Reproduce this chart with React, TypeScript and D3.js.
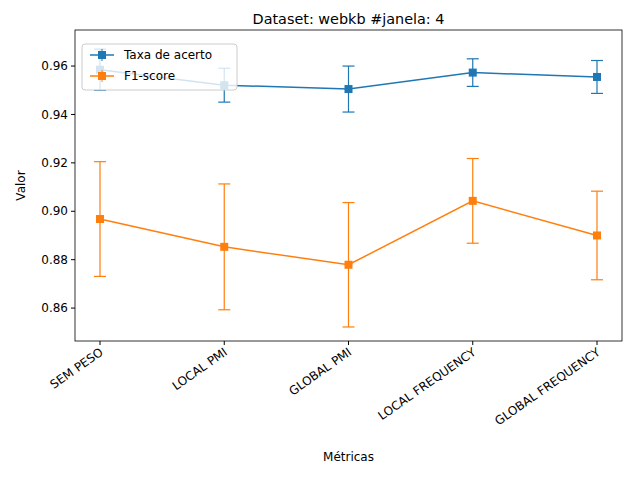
import * as d3 from "d3";

const categories = ["SEM PESO", "LOCAL PMI", "GLOBAL PMI", "LOCAL FREQUENCY", "GLOBAL FREQUENCY"];
const accMean = [0.9585, 0.9521, 0.9505, 0.9573, 0.9555];
const accErr = [0.0085, 0.007, 0.0095, 0.0057, 0.0068];
const f1Mean = [0.8968, 0.8853, 0.8779, 0.9043, 0.89];
const f1Err = [0.0237, 0.026, 0.0257, 0.0175, 0.0183];
const yTicks = [0.86, 0.88, 0.9, 0.92, 0.94, 0.96];

const W = 640, H = 480;
const m = { l: 75, r: 622, t: 30, b: 341 };

export default function App() {
  const x = d3.scalePoint<string>().domain(categories).range([100, 597]);
  const y = d3.scaleLinear().domain([0.8464, 0.9749]).range([m.b, m.t]);
  const series = [
    { name: "Taxa de acerto", mean: accMean, err: accErr, color: "#1f77b4" },
    { name: "F1-score", mean: f1Mean, err: f1Err, color: "#ff7f0e" },
  ];
  const line = d3.line<[string, number]>().x((d) => x(d[0])!).y((d) => y(d[1]));
  return (
    <svg width={W} height={H} style={{ position: "absolute", left: 0, top: 0, fontFamily: "DejaVu Sans" }}>
      <rect width={W} height={H} fill="white" />
      {series.map((s) => (
        <g key={s.name}>
          {categories.map((c, i) => {
            const cx = x(c)!;
            return (
              <g key={c} stroke={s.color} strokeWidth={1.2}>
                <line x1={cx} x2={cx} y1={y(s.mean[i] + s.err[i])} y2={y(s.mean[i] - s.err[i])} />
                <line x1={cx - 6} x2={cx + 6} y1={y(s.mean[i] + s.err[i])} y2={y(s.mean[i] + s.err[i])} />
                <line x1={cx - 6} x2={cx + 6} y1={y(s.mean[i] - s.err[i])} y2={y(s.mean[i] - s.err[i])} />
              </g>
            );
          })}
          <path d={line(categories.map((c, i) => [c, s.mean[i]]))!} fill="none" stroke={s.color} strokeWidth={1.5} />
          {categories.map((c, i) => (
            <rect key={c} x={x(c)! - 4} y={y(s.mean[i]) - 4} width={8} height={8} fill={s.color} />
          ))}
        </g>
      ))}
      <rect x={m.l} y={m.t} width={m.r - m.l} height={m.b - m.t} fill="none" stroke="black" strokeWidth={0.8} />
      {yTicks.map((t) => (
        <g key={t}>
          <line x1={m.l - 4} x2={m.l} y1={y(t)} y2={y(t)} stroke="black" />
          <text x={m.l - 7} y={y(t)} dy="0.35em" textAnchor="end" fontSize={12}>{t.toFixed(2)}</text>
        </g>
      ))}
      {categories.map((c) => (
        <g key={c}>
          <line x1={x(c)} x2={x(c)} y1={m.b} y2={m.b + 4} stroke="black" />
          <text transform={`translate(${x(c)! + 4},${m.b + 13}) rotate(-35)`} textAnchor="end" fontSize={12}>{c}</text>
        </g>
      ))}
      <text x={(m.l + m.r) / 2} y={461} textAnchor="middle" fontSize={12}>Métricas</text>
      <text transform={`translate(25,${(m.t + m.b) / 2}) rotate(-90)`} textAnchor="middle" fontSize={12}>Valor</text>
      <text x={(m.l + m.r) / 2} y={24} textAnchor="middle" fontSize={14.4}>Dataset: webkb #janela: 4</text>
      <g transform="translate(82,44)">
        <rect x={0} y={0} width={155} height={46} rx={3} fill="white" fillOpacity={0.8} stroke="#ccc" />
        {series.map((s, i) => (
          <g key={s.name} transform={`translate(0,${11 + i * 21})`}>
            <line x1={8} x2={32} y1={0} y2={0} stroke={s.color} strokeWidth={1.5} />
            <line x1={20} x2={20} y1={-6} y2={6} stroke={s.color} />
            <rect x={16} y={-4} width={8} height={8} fill={s.color} />
            <text x={42} y={0} dy="0.35em" fontSize={12}>{s.name}</text>
          </g>
        ))}
      </g>
    </svg>
  );
}
